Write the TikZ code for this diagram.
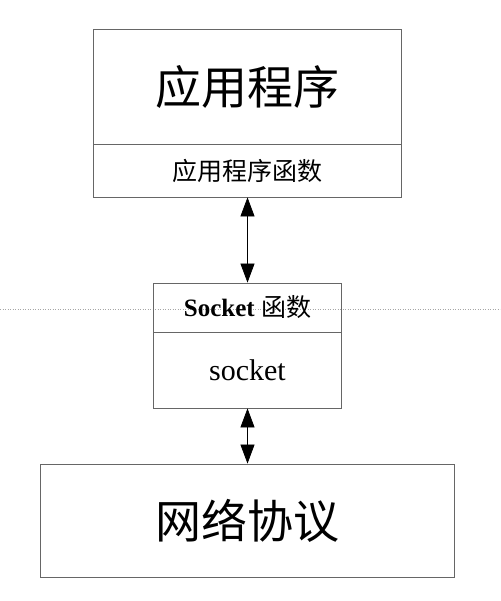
\documentclass[tikz,border=0pt]{standalone}
\usepackage{fontspec}
\setmainfont{Liberation Serif}
\newfontfamily\cjk{Noto Sans CJK SC}
\usetikzlibrary{arrows.meta}
\begin{document}
\begin{tikzpicture}[x=1pt,y=-1pt,
  part/.style={draw=black!60, line width=0.8pt, minimum width=#1, inner sep=0pt, anchor=center},
  link/.style={line width=0.7pt, {Triangle[length=19pt,width=14pt]}-{Triangle[length=19pt,width=14pt]}},
  guide/.style={draw=black!35, line width=0.5pt, dotted}]
\useasboundingbox (0,0) rectangle (500,601);
\coordinate (gl) at (0,309);
\coordinate (gr) at (500,309);
\draw[guide] (gl) -- (gr);
\node[part=308pt, minimum height=115pt] (app) at (247.5,86.5) {\fontsize{46}{50}\selectfont\cjk 应用程序};
\node[part=308pt, minimum height=53pt] (appf) at (247.5,170.5) {\fontsize{25}{28}\selectfont\cjk 应用程序函数};
\node[part=188pt, minimum height=49pt] (sockh) at (247.5,307.5) {\fontsize{25}{28}\selectfont\textbf{Socket} {\cjk 函数}};
\node[part=188pt, minimum height=76pt] (sock) at (247.5,370) {\fontsize{30}{34}\selectfont socket};
\node[part=414pt, minimum height=113pt] (net) at (247.5,520.5) {\fontsize{46}{50}\selectfont\cjk 网络协议};
\draw[link] (appf.south) -- (sockh.north);
\draw[link] (sock.south) -- (net.north);
\end{tikzpicture}
\end{document}
